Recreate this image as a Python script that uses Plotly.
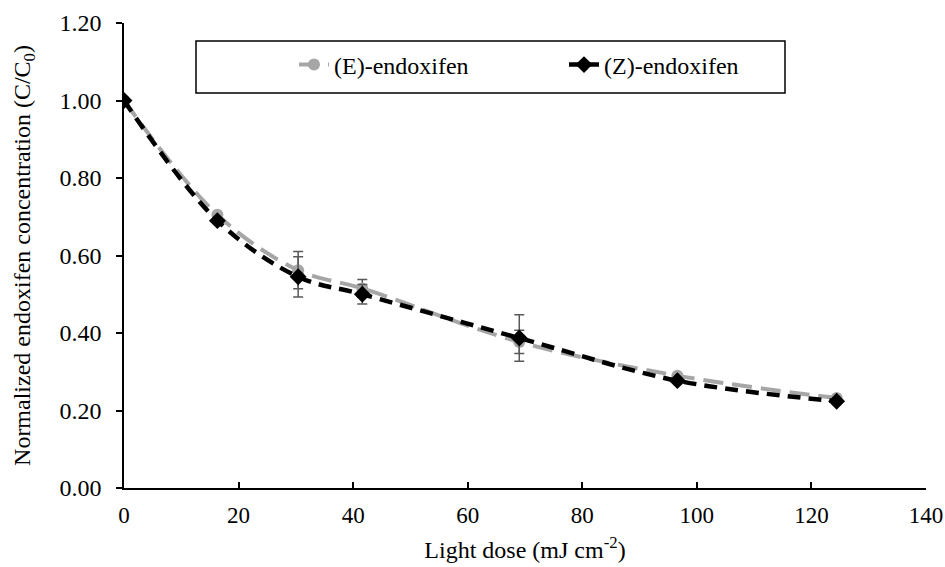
import plotly.graph_objects as go

# Light dose (mJ cm-2) and normalized concentration C/C0
dose = [0, 16.3, 30.4, 41.6, 69.0, 96.6, 124.4]
e_conc = [1.00, 0.705, 0.562, 0.515, 0.377, 0.290, 0.232]
e_err = [0, 0, 0.048, 0.023, 0.030, 0, 0]
z_conc = [1.00, 0.690, 0.545, 0.500, 0.387, 0.277, 0.224]
z_err = [0, 0, 0.052, 0.025, 0.060, 0, 0]

x_ticks = [0, 20, 40, 60, 80, 100, 120, 140]
y_ticks = [0.0, 0.2, 0.4, 0.6, 0.8, 1.0, 1.2]

font_family = "Liberation Serif"

fig = go.Figure()
fig.add_trace(go.Scatter(
    x=dose, y=e_conc, name="(E)-endoxifen",
    mode="lines+markers", line=dict(color="#A6A6A6", width=4, dash="20px,9px", shape="spline"),
    marker=dict(symbol="circle", size=12, color="#A6A6A6"),
    error_y=dict(type="data", array=e_err, visible=True, color="#595959", thickness=1.5, width=5),
))
fig.add_trace(go.Scatter(
    x=dose, y=z_conc, name="(Z)-endoxifen",
    mode="lines+markers", line=dict(color="black", width=4.5, dash="13px,8px", shape="spline"),
    marker=dict(symbol="diamond", size=13, color="black"),
    error_y=dict(type="data", array=z_err, visible=True, color="#595959", thickness=1.5, width=5),
))

# Legend frame
fig.add_shape(type="rect", xref="paper", yref="paper",
              x0=(196 - 124) / 802, x1=(785 - 124) / 802,
              y0=(488 - 93) / 465, y1=(488 - 41) / 465,
              line=dict(color="black", width=1.5), fillcolor="white", layer="below")

fig.update_layout(
    width=945, height=567,
    margin=dict(l=124, r=19, t=23, b=79, autoexpand=False),
    paper_bgcolor="white", plot_bgcolor="white",
    font=dict(family=font_family, size=24, color="black"),
    showlegend=True,
    legend=dict(
        orientation="h", x=(294 - 124) / 802, y=(488 - 65) / 465, xanchor="left", yanchor="middle",
        borderwidth=0, bgcolor="rgba(0,0,0,0)",
        font=dict(family=font_family, size=24), entrywidth=225,
    ),
    xaxis=dict(
        range=[0, 140], tickvals=x_ticks, ticktext=[str(v) for v in x_ticks],
        showline=True, linecolor="black", linewidth=1.5,
        ticks="inside", ticklen=6, tickcolor="black", tickwidth=1.5,
        ticklabelstandoff=6, automargin=False,
        showgrid=False, zeroline=False,
        title=dict(text="Light dose (mJ cm<sup>-2</sup>)", font=dict(family=font_family, size=24), standoff=14),
        tickfont=dict(family=font_family, size=23),
    ),
    yaxis=dict(
        range=[0, 1.2], tickvals=y_ticks, ticktext=[f"{v:.2f}" for v in y_ticks],
        showline=True, linecolor="black", linewidth=1.5,
        ticks="outside", ticklen=6, tickcolor="black", tickwidth=1.5,
        ticklabelstandoff=10, automargin=False,
        showgrid=False, zeroline=False,
        title=dict(text="Normalized endoxifen concentration (C/C<sub>0</sub>)", font=dict(family=font_family, size=24), standoff=22),
        tickfont=dict(family=font_family, size=24),
    ),
)

fig.write_html("out.html")
